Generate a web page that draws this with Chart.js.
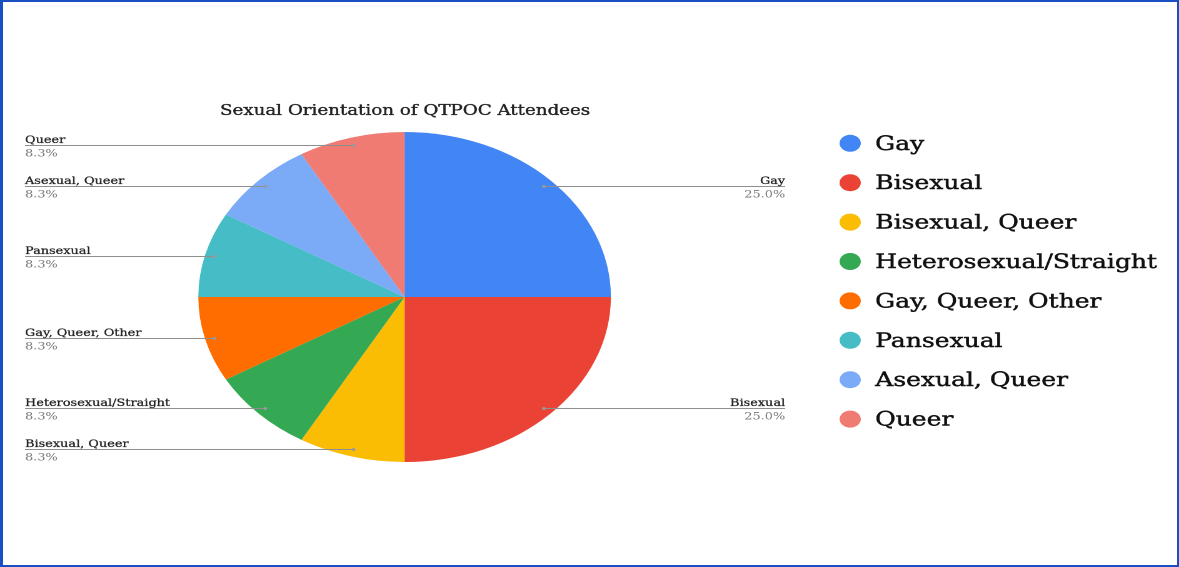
<!DOCTYPE html>
<html>
<head>
<meta charset="utf-8">
<script src="https://cdn.jsdelivr.net/npm/chart.js@4.4.0/dist/chart.umd.min.js"></script>
<style>
    html, body { margin: 0; padding: 0; background: #fff; }
    #wrap { position: relative; width: 1179px; height: 567px; overflow: hidden; }
    #frame {
        position: absolute; left: 0; top: 0; width: 1179px; height: 567px;
        box-sizing: border-box; border: 2px solid #1a4fc4; border-left-width: 3px;
        pointer-events: none;
    }
</style>
</head>
<body>
<div id="wrap">
    <!-- the source image is stretched sideways, so the canvas is drawn narrow and widened by css -->
    <canvas id="c" width="943" height="567"
        style="position:absolute;left:0;top:0;width:1179px;height:567px"></canvas>
    <div id="frame"></div>
</div>
<script>
const TITLE = 'Sexual Orientation of QTPOC Attendees';

const labels = [
    'Gay',
    'Bisexual',
    'Bisexual, Queer',
    'Heterosexual/Straight',
    'Gay, Queer, Other',
    'Pansexual',
    'Asexual, Queer',
    'Queer',
];

const counts = [3, 3, 1, 1, 1, 1, 1, 1];

const COLORS = [
    '#4285f4', // blue
    '#ea4335', // red
    '#fbbc04', // yellow
    '#34a853', // green
    '#ff6d01', // orange
    '#46bdc6', // teal
    '#7baaf7', // light blue
    '#f07b72', // salmon
];

const FONT = '"DejaVu Serif", "Liberation Serif", serif';

const total = counts.reduce((a, b) => a + b, 0);
const percents = counts.map((c) => (c / total * 100).toFixed(1) + '%');

// fill plus a hairline stroke, the source text is a bit heavier than DejaVu
function heavyText(ctx, text, x, y, color, weight) {
    ctx.fillStyle = color;
    ctx.fillText(text, x, y);
    ctx.strokeStyle = color;
    ctx.lineWidth = weight;
    ctx.strokeText(text, x, y);
}

// title, leader-line labels and the right-hand legend
const annotations = {
    id: 'annotations',
    afterDraw(chart) {
        const ctx = chart.ctx;
        const meta = chart.getDatasetMeta(0);
        ctx.save();

        ctx.font = `14.6px ${FONT}`;
        ctx.textAlign = 'center';
        ctx.textBaseline = 'alphabetic';
        heavyText(ctx, TITLE, 324, 115, '#222', 0.35);

        meta.data.forEach((arc, i) => {
            const { x, y, startAngle, endAngle, outerRadius } =
                arc.getProps(['x', 'y', 'startAngle', 'endAngle', 'outerRadius'], true);
            const mid = (startAngle + endAngle) / 2;
            const px = x + Math.cos(mid) * outerRadius * 0.955;
            const py = Math.round(y + Math.sin(mid) * outerRadius * 0.955) + 0.5;
            const right = Math.cos(mid) > 0;
            const ex = right ? 628 : 20;

            ctx.strokeStyle = '#8f8f8f';
            ctx.lineWidth = 1;
            ctx.beginPath();
            ctx.moveTo(px, py);
            ctx.lineTo(ex, py);
            ctx.stroke();

            ctx.fillStyle = '#9a9a9a';
            ctx.beginPath();
            ctx.arc(px, py, 1.5, 0, Math.PI * 2);
            ctx.fill();

            ctx.textAlign = right ? 'right' : 'left';
            ctx.font = `10.3px ${FONT}`;
            heavyText(ctx, labels[i], ex, py - 2.5, '#222', 0.25);
            ctx.fillStyle = '#7a7a7a';
            ctx.fillText(percents[i], ex, py + 11);
        });

        ctx.textAlign = 'left';
        ctx.font = `20px ${FONT}`;
        labels.forEach((label, i) => {
            const cy = 143.3 + i * 39.4;
            ctx.fillStyle = COLORS[i];
            ctx.beginPath();
            ctx.arc(680, cy, 8.5, 0, Math.PI * 2);
            ctx.fill();
            heavyText(ctx, label, 700, cy + 6.5, '#111', 0.45);
        });

        ctx.restore();
    },
};

new Chart(document.getElementById('c'), {
    type: 'pie',
    data: {
        labels,
        datasets: [{
            data: counts,
            backgroundColor: COLORS,
            borderWidth: 0,
            hoverBorderWidth: 0,
            hoverOffset: 0,
            clip: false,
        }],
    },
    options: {
        responsive: false,
        animation: false,
        devicePixelRatio: 2,
        events: [],
        layout: {
            padding: { top: 132, bottom: 105, left: 158.6, right: 454.4 },
        },
        plugins: {
            legend: { display: false },
            tooltip: { enabled: false },
            title: { display: false },
        },
    },
    plugins: [annotations],
});
</script>
</body>
</html>
